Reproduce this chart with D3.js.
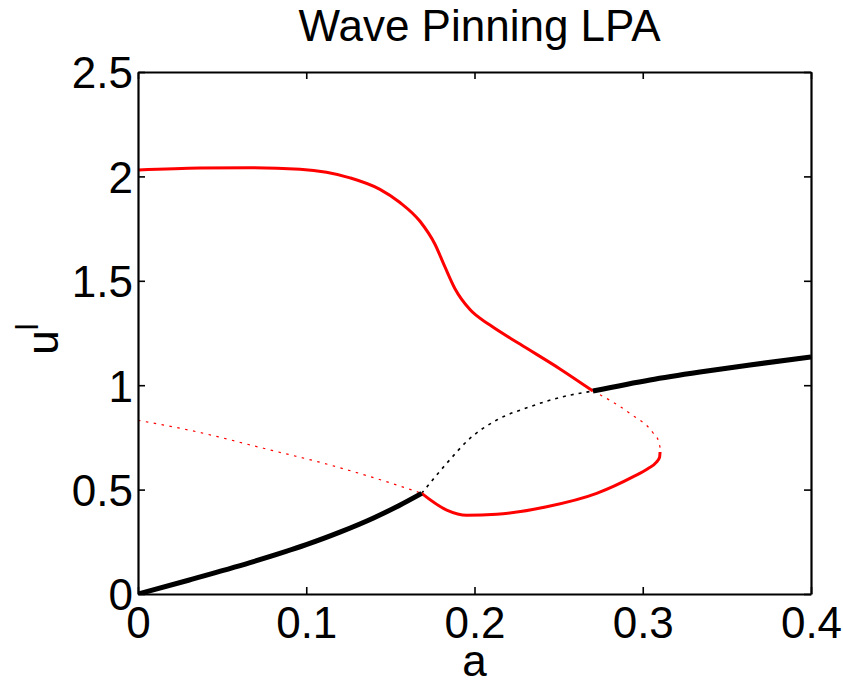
<!DOCTYPE html>
<html>
<head>
<meta charset="utf-8">
<script src="https://cdn.jsdelivr.net/npm/d3@7"></script>
<style>
  html, body { margin: 0; padding: 0; background: #fff; }
  text { font-family: "Liberation Sans", Arial, Helvetica, sans-serif; }
</style>
</head>
<body>
<svg id="chart" width="843" height="682"></svg>
<script>
// ---- data ----
const titleText = "Wave Pinning LPA";
const xTicks = [0, 0.1, 0.2, 0.3, 0.4];
const xTickLabels = ["0", "0.1", "0.2", "0.3", "0.4"];
const yTicks = [0, 0.5, 1, 1.5, 2, 2.5];
const yTickLabels = ["0", "0.5", "1", "1.5", "2", "2.5"];

// black: homogeneous steady state
const aBlackLow = [0, 0.03, 0.0666, 0.1, 0.12, 0.14, 0.155, 0.1686];
const uBlackLow = [0, 0.066, 0.150, 0.236, 0.296, 0.364, 0.423, 0.482];
const aBlackMid = [0.1686, 0.1835, 0.1973, 0.2132, 0.233, 0.2526, 0.2704];
const uBlackMid = [0.482, 0.626, 0.745, 0.833, 0.897, 0.945, 0.972];
const aBlackHigh = [0.2704, 0.3043, 0.334, 0.3637, 0.4];
const uBlackHigh = [0.972, 1.025, 1.063, 1.097, 1.135];

// red: LPA branches
const aRedUpper = [0, 0.0369, 0.0666, 0.0963, 0.126, 0.1438, 0.1557, 0.1676, 0.1765, 0.1825, 0.1884, 0.1973, 0.2092, 0.227, 0.2508, 0.2704];
const uRedUpper = [2.031, 2.040, 2.042, 2.034, 1.993, 1.938, 1.875, 1.785, 1.675, 1.565, 1.462, 1.362, 1.288, 1.197, 1.078, 0.972];
const aRedLower = [0.1686, 0.1835, 0.1954, 0.2132, 0.2429, 0.2726, 0.2944, 0.3030, 0.3080, 0.3100, 0.3103];
const uRedLower = [0.482, 0.402, 0.377, 0.382, 0.418, 0.482, 0.562, 0.600, 0.630, 0.655, 0.680];
const aRedDotRight = [0.2704, 0.2924, 0.3063, 0.3095, 0.3103];
const uRedDotRight = [0.972, 0.865, 0.770, 0.730, 0.700];
const aRedDotLeft = [0, 0.0349, 0.0745, 0.1141, 0.1538, 0.1686];
const uRedDotLeft = [0.832, 0.777, 0.698, 0.618, 0.522, 0.482];

// ---- layout ----
const svg = d3.select("#chart");
const L = 138, R = 811, T = 72, B = 594;
const x = d3.scaleLinear().domain([0, 0.4]).range([L, R]);
const y = d3.scaleLinear().domain([0, 2.5]).range([B, T]);
const FS = 44;

svg.append("defs").append("clipPath").attr("id", "clip")
  .append("rect").attr("x", L).attr("y", T).attr("width", R - L).attr("height", B - T);

const zip = (as, us) => as.map((a, i) => [a, us[i]]);
const line = d3.line().x(d => x(d[0])).y(d => y(d[1])).curve(d3.curveMonotoneX);

const plot = svg.append("g").attr("clip-path", "url(#clip)");
function draw(as, us, color, width, dash) {
  const p = plot.append("path").datum(zip(as, us))
    .attr("d", line).attr("fill", "none")
    .attr("stroke", color).attr("stroke-width", width)
    .attr("stroke-linejoin", "round");
  if (dash) p.attr("stroke-dasharray", dash);
}
draw(aRedDotLeft, uRedDotLeft, "#ff0000", 1.2, "2.5,5.5");
draw(aRedDotRight, uRedDotRight, "#ff0000", 1.2, "2.5,5.5");
draw(aBlackMid, uBlackMid, "#000", 1.6, "3,5");
draw(aRedUpper, uRedUpper, "#ff0000", 3);
draw(aRedLower, uRedLower, "#ff0000", 3);
draw(aBlackLow, uBlackLow, "#000", 5);
draw(aBlackHigh, uBlackHigh, "#000", 5);

// ---- axes (box with inward ticks) ----
const tickLen = 7;
const axB = svg.append("g").attr("transform", `translate(0,${B})`)
  .call(d3.axisBottom(x).tickValues(xTicks).tickSizeInner(-tickLen).tickSizeOuter(0)
    .tickFormat((d, i) => xTickLabels[i]));
const axT = svg.append("g").attr("transform", `translate(0,${T})`)
  .call(d3.axisTop(x).tickValues(xTicks).tickSizeInner(-tickLen).tickSizeOuter(0).tickFormat(""));
const axL = svg.append("g").attr("transform", `translate(${L},0)`)
  .call(d3.axisLeft(y).tickValues(yTicks).tickSizeInner(-tickLen).tickSizeOuter(0)
    .tickFormat((d, i) => yTickLabels[i]));
const axR = svg.append("g").attr("transform", `translate(${R},0)`)
  .call(d3.axisRight(y).tickValues(yTicks).tickSizeInner(-tickLen).tickSizeOuter(0).tickFormat(""));

[axB, axT, axL, axR].forEach(g => {
  g.select(".domain").attr("stroke", "#000").attr("stroke-width", 2.2);
  g.selectAll(".tick line").attr("stroke", "#000").attr("stroke-width", 1.6);
  g.selectAll("text").attr("font-family", "Liberation Sans, Arial, sans-serif")
    .attr("font-size", FS).attr("fill", "#000");
});
axB.selectAll(".tick text").attr("y", 13).attr("dy", "0.71em");
axL.selectAll(".tick text").attr("x", -5).attr("dy", "0.36em");

// ---- titles ----
svg.append("text").attr("x", (L + R) / 2 + 5).attr("y", 41)
  .attr("text-anchor", "middle").attr("font-size", FS).text(titleText);
svg.append("text").attr("x", (L + R) / 2).attr("y", 676)
  .attr("text-anchor", "middle").attr("font-size", FS).text("a");
const yl = svg.append("text").attr("transform", `translate(58,${(T + B) / 2 + 6}) rotate(-90)`)
  .attr("text-anchor", "middle").attr("font-size", FS);
yl.append("tspan").text("u");
yl.append("tspan").attr("dy", -20).attr("font-size", 31).text("l");
</script>
</body>
</html>
